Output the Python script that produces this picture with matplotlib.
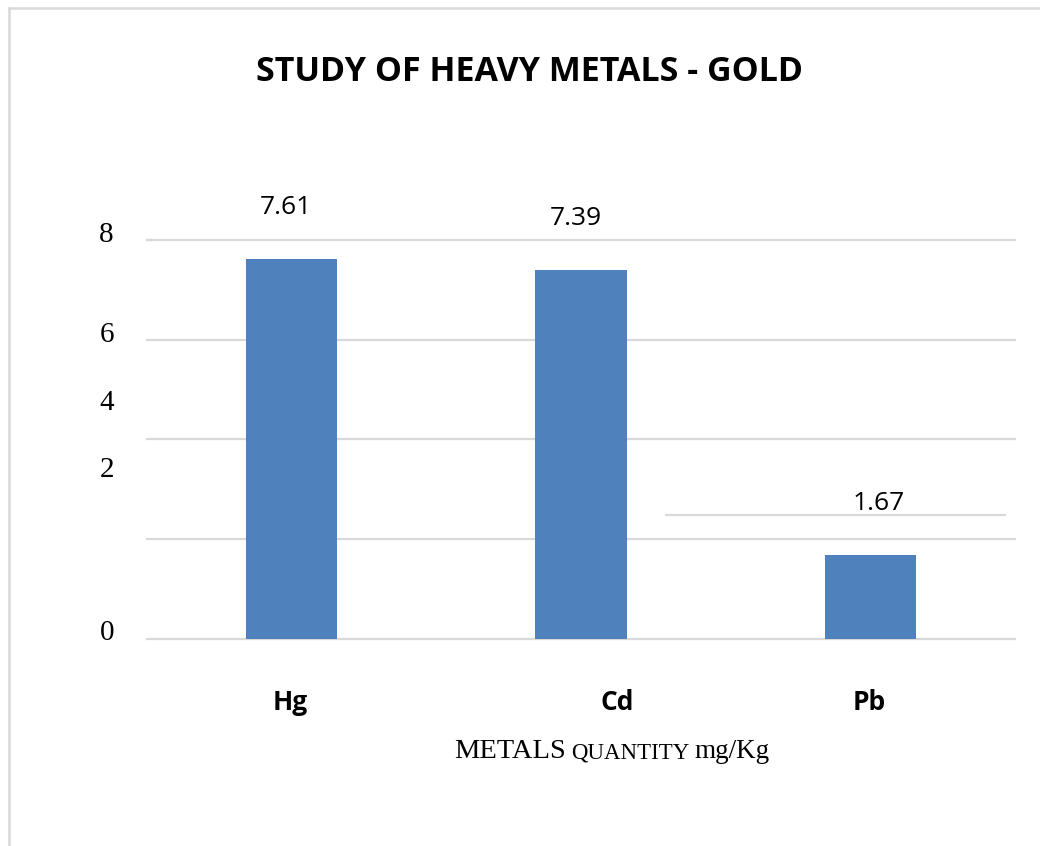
import matplotlib
matplotlib.use("Agg")
import matplotlib.pyplot as plt
from matplotlib.lines import Line2D

# ---- data ----
categories = ["Hg", "Cd", "Pb"]
values = [7.61, 7.39, 1.67]
grid_values = [0, 2, 4, 6, 8]
ytick_labels = ["8", "6", "4", "2", "0"]
title = "STUDY OF HEAVY METALS - GOLD"
xlabel_parts = ["METALS", "QUANTITY", "mg/Kg"]
stray_line_value = 2.48

# ---- layout / style ----
W, H = 1040, 846
fig = plt.figure(figsize=(W / 100, H / 100), dpi=100)
fig.patch.set_facecolor("white")

ax_left, ax_right = 147, 1015
ax_bottom_px, ax_top_px = 638.5, 240
ax = fig.add_axes([ax_left / W, 1 - ax_bottom_px / H,
                   (ax_right - ax_left) / W, (ax_bottom_px - ax_top_px) / H])
ax.patch.set_alpha(0)
for s in ax.spines.values():
    s.set_visible(False)

grid_color = "#d9d9d9"
for g in grid_values:
    ax.axhline(g, color=grid_color, lw=1.6, zorder=0, clip_on=False)
# short stray gridline segment seen in the reference
ax.hlines(stray_line_value, 1.292, 2.469, color=grid_color, lw=1.6, zorder=0)

x = list(range(len(categories)))
bars = ax.bar(x, values, width=0.315, color="#4f81bd", zorder=2)

# value labels
label_dx_px = [-6, -5, 8]
for i, v in enumerate(values):
    ax.annotate(f"{v:.2f}", (x[i], v), xytext=(label_dx_px[i] * 0.72, 52 * 0.72),
                textcoords="offset points", ha="center", va="center",
                fontsize=19, family="Open Sans", color="#000000",
                annotation_clip=False)

# y axis labels (placed where they appear in the reference)
ytick_label_pos = [8.16, 6.16, 4.79, 3.44, 0.17]
ax.set_yticks([])
for lab, pos in zip(ytick_labels, ytick_label_pos):
    ax.annotate(lab, (0, pos), xycoords=("axes fraction", "data"),
                xytext=(-33 * 0.72, 0), textcoords="offset points",
                ha="right", va="center_baseline", family="Liberation Serif",
                fontsize=21, color="#000000", annotation_clip=False)

# x tick labels
xtick_pos = [-0.005, 1.126, 1.995]
ax.set_xticks(xtick_pos, categories)
ax.tick_params(axis="x", length=0, pad=36)
for t in ax.get_xticklabels():
    t.set_family("Open Sans")
    t.set_fontweight("bold")
    t.set_fontsize(19)
    t.set_color("#000000")

# limits set last so tick placement does not expand them
ax.set_xlim(-0.5, 2.5)
ax.set_ylim(0, 8)

# title
fig.text(529 / W, 1 - 72 / H, title, ha="center", va="center",
         family="Open Sans", fontweight="bold", fontsize=24.5, color="#000000")

# x axis title in mixed sizes
sizes = [20.5, 16.5, 19.5]
fig.canvas.draw()
renderer = fig.canvas.get_renderer()
texts = []
widths = []
for part, sz in zip(xlabel_parts, sizes):
    t = fig.text(0, 0, part, family="Liberation Serif", fontsize=sz,
                 va="baseline", ha="left", color="#000000")
    texts.append(t)
    widths.append(t.get_window_extent(renderer).width)
space = 5
total = sum(widths) + space * (len(widths) - 1)
cx = 612
xcur = cx - total / 2
base_y = 1 - 758 / H
for t, w in zip(texts, widths):
    t.set_position((xcur / W, base_y))
    xcur += w + space

# outer border (left and top only visible)
bc = "#d9d9d9"
fig.add_artist(Line2D([9 / W, 9 / W], [0, 1 - 8 / H], color=bc, lw=1.8,
                      transform=fig.transFigure))
fig.add_artist(Line2D([9 / W, 1], [1 - 8 / H, 1 - 8 / H], color=bc, lw=1.8,
                      transform=fig.transFigure))

fig.savefig("out.png", dpi=100)
